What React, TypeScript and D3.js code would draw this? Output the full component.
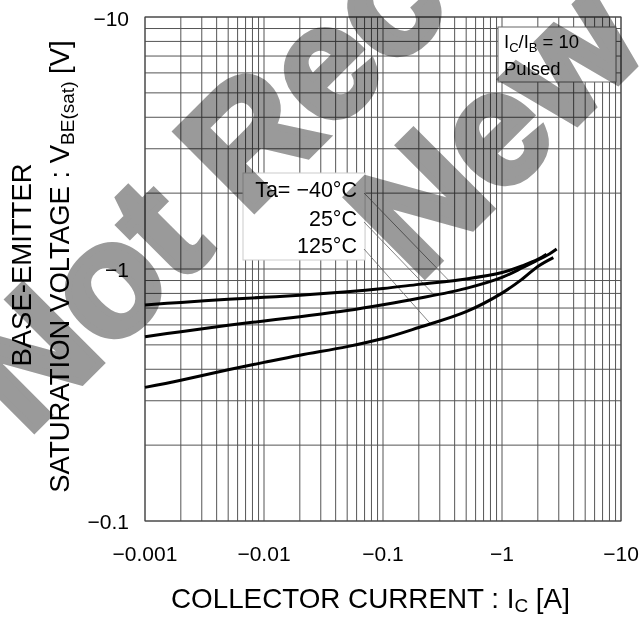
import React from "react";
import * as d3 from "d3";

// ---- data ----
const IC_TICKS = [0.001, 0.01, 0.1, 1, 10];
const IC_TICK_LABELS = ["\u22120.001", "\u22120.01", "\u22120.1", "\u22121", "\u221210"];
const VBE_TICKS = [0.1, 1, 10];
const VBE_TICK_LABELS = ["\u22120.1", "\u22121", "\u221210"];

const TEMPS = ["Ta= \u221240\u00b0C", "25\u00b0C", "125\u00b0C"];

const SERIES_M40: [number, number][] = [
  [0.001, 0.72], [0.002, 0.737], [0.005, 0.758], [0.01, 0.772], [0.02, 0.787],
  [0.05, 0.812], [0.1, 0.837], [0.2, 0.869], [0.5, 0.913], [1, 0.968],
  [1.5, 1.032], [2, 1.091], [2.37, 1.144],
];
const SERIES_25: [number, number][] = [
  [0.001, 0.539], [0.002, 0.564], [0.005, 0.598], [0.01, 0.622], [0.02, 0.647],
  [0.05, 0.684], [0.1, 0.721], [0.2, 0.765], [0.5, 0.838], [1, 0.926],
  [1.5, 1.014], [2, 1.086], [2.5, 1.147], [2.88, 1.2],
];
const SERIES_125: [number, number][] = [
  [0.001, 0.339], [0.002, 0.362], [0.005, 0.398], [0.01, 0.426], [0.02, 0.455],
  [0.05, 0.492], [0.1, 0.53], [0.2, 0.586], [0.5, 0.677], [1, 0.802],
  [1.5, 0.917], [2, 1.023], [2.7, 1.109],
];
const SERIES = [SERIES_M40, SERIES_25, SERIES_125];
// collector current where each legend leader line meets its curve
const LEADER_IC = [0.36, 0.27, 0.25];

const FONT = "'Liberation Sans', Arial, sans-serif";

const PL = 145, PR = 621, PT = 17, PB = 521;

function interpLog(series: [number, number][], xv: number) {
  const lx = Math.log10(xv);
  for (let i = 0; i < series.length - 1; i++) {
    const a = Math.log10(series[i][0]);
    const b = Math.log10(series[i + 1][0]);
    if (lx >= a && lx <= b) {
      const t = (lx - a) / (b - a);
      const ya = Math.log10(series[i][1]);
      const yb = Math.log10(series[i + 1][1]);
      return Math.pow(10, ya + t * (yb - ya));
    }
  }
  return series[series.length - 1][1];
}

export default function App() {
  const x = d3.scaleLog().domain([0.001, 10]).range([PL, PR]);
  const y = d3.scaleLog().domain([0.1, 10]).range([PB, PT]);

  const xGrid: number[] = [];
  for (let e = -3; e <= 0; e++) for (let m = 1; m <= 9; m++) xGrid.push(m * Math.pow(10, e));
  xGrid.push(10);
  const yGrid: number[] = [];
  for (let e = -1; e <= 0; e++) for (let m = 1; m <= 9; m++) yGrid.push(m * Math.pow(10, e));
  yGrid.push(10);

  const line = d3
    .line<[number, number]>()
    .x((d) => x(d[0]))
    .y((d) => y(d[1]))
    .curve(d3.curveCatmullRom.alpha(0.5));

  const legendBaselines = [197, 226, 253];
  const legendRight = 357;

  return (
    <svg
      width={641}
      height={617}
      style={{ position: "absolute", left: 0, top: 0, background: "#fff" }}
      fontFamily={FONT}
    >
      <rect x={0} y={0} width={641} height={617} fill="#fff" />
      {/* grid */}
      <g stroke="#555" strokeWidth={1}>
        {xGrid.map((v, i) => (
          <line key={"gx" + i} x1={x(v)} x2={x(v)} y1={PT} y2={PB} />
        ))}
        {yGrid.map((v, i) => (
          <line key={"gy" + i} x1={PL} x2={PR} y1={y(v)} y2={y(v)} />
        ))}
      </g>
      <rect x={PL} y={PT} width={PR - PL} height={PB - PT} fill="none" stroke="#444" strokeWidth={1} />

      {/* legend box */}
      <rect x={243} y={173} width={122} height={87} fill="#fff" stroke="#ccc" strokeWidth={1} />
      {TEMPS.map((t, i) => (
        <text key={"lt" + i} x={legendRight} y={legendBaselines[i]} textAnchor="end" fontSize={21.5} fill="#000">
          {t}
        </text>
      ))}
      {/* leader lines */}
      <g stroke="#666" strokeWidth={0.8}>
        {LEADER_IC.map((ic, i) => (
          <line
            key={"ld" + i}
            x1={364}
            y1={legendBaselines[i] - 4}
            x2={x(ic)}
            y2={y(interpLog(SERIES[i], ic))}
          />
        ))}
      </g>

      {/* curves */}
      {SERIES.map((s, i) => (
        <path key={"c" + i} d={line(s) || ""} fill="none" stroke="#000" strokeWidth={3} />
      ))}

      {/* condition box */}
      <rect x={498} y={27} width={118} height={55} fill="#fff" stroke="#666" strokeWidth={1} />
      <text x={504} y={48} fontSize={18.5}>
        I<tspan fontSize={13} dy={4}>C</tspan>
        <tspan dy={-4}>/I</tspan>
        <tspan fontSize={13} dy={4}>B</tspan>
        <tspan dy={-4}> = 10</tspan>
      </text>
      <text x={504} y={75} fontSize={18.5}>
        Pulsed
      </text>

      {/* x tick labels */}
      {IC_TICKS.map((v, i) => (
        <text key={"xt" + i} x={x(v)} y={561} textAnchor="middle" fontSize={21}>
          {IC_TICK_LABELS[i]}
        </text>
      ))}
      {/* y tick labels */}
      {VBE_TICKS.map((v, i) => (
        <text key={"yt" + i} x={129} y={y(v) + (i === 2 ? 9 : 7.5)} textAnchor="end" fontSize={21}>
          {VBE_TICK_LABELS[i]}
        </text>
      ))}

      {/* axis titles */}
      <text x={171} y={608} fontSize={27.8}>
        COLLECTOR CURRENT : I<tspan fontSize={19} dy={4}>C</tspan>
        <tspan dy={-4}> [A]</tspan>
      </text>
      <text transform="translate(31,265) rotate(-90)" textAnchor="middle" fontSize={27.5}>
        BASE-EMITTER
      </text>
      <text transform="translate(69,266.5) rotate(-90)" textAnchor="middle" fontSize={27.5}>
        SATURATION VOLTAGE : V<tspan fontSize={19} dy={5}>BE(sat)</tspan>
        <tspan dy={-5}> [V]</tspan>
      </text>

      {/* watermark */}
      <g
        transform="rotate(-45)"
        style={{ mixBlendMode: "multiply" }}
        fill="#9a9a9a"
        stroke="#9a9a9a"
        strokeWidth={7}
        strokeLinejoin="miter"
        fontWeight="bold"
        fontSize={160}
      >
        <text x={-290} y={328}>Not Recommended</text>
        <text x={95} y={495}>New Designs</text>
      </g>
    </svg>
  );
}
